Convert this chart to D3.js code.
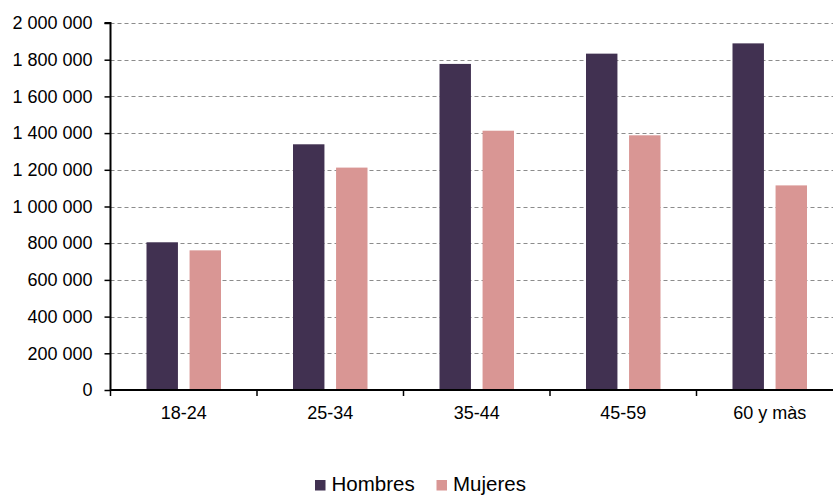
<!DOCTYPE html>
<html><head><meta charset="utf-8">
<script src="https://cdn.jsdelivr.net/npm/d3@7"></script>
<style>body{margin:0;background:#fff}svg{display:block}text{font-family:"Liberation Sans",Arial,sans-serif;fill:#000}</style>
</head><body><svg id="c" width="833" height="495"></svg>
<script>
const categories = ["18-24","25-34","35-44","45-59","60 y màs"];
const seriesNames = ["Hombres","Mujeres"];
const hombres = [805000,1339000,1777000,1833000,1889000];
const mujeres = [761000,1212000,1413000,1388000,1115000];
const yTicks = [0,200000,400000,600000,800000,1000000,1200000,1400000,1600000,1800000,2000000];
const colors = ["#413151","#d99694"];

const svg = d3.select("#c");
const x0 = 110.5, x1 = 843, yb = 390, yt = 23;
const x = d3.scaleBand().domain(categories).range([x0,x1]).paddingInner(0).paddingOuter(0);
const xs = d3.scaleBand().domain(seriesNames).range([36, 146.5-36]).paddingInner(0.27);
const y = d3.scaleLinear().domain([0,2000000]).range([yb,yt]);
const fmt = v => d3.format(",")(v).replace(/,/g," ");

// gridlines
svg.append("g").selectAll("line").data(yTicks.filter(d=>d>0)).join("line")
  .attr("x1",x0).attr("x2",833).attr("y1",d=>Math.round(y(d))+0.5).attr("y2",d=>Math.round(y(d))+0.5)
  .attr("stroke","#8c8c8c").attr("stroke-width",1.2).attr("stroke-dasharray","4,3");

// bars
const data = [hombres, mujeres];
const g = svg.append("g");
categories.forEach((c,i)=>{
  seriesNames.forEach((s,j)=>{
    g.append("rect")
      .attr("x", x(c)+xs(s)).attr("width", xs.bandwidth())
      .attr("y", y(data[j][i])).attr("height", yb - y(data[j][i]))
      .attr("fill", colors[j]);
  });
});

// y axis
const ya = svg.append("g").attr("transform",`translate(${x0},0)`)
  .call(d3.axisLeft(y).tickValues(yTicks).tickFormat(fmt).tickSize(6).tickPadding(12));
ya.select(".domain").attr("stroke","#000").attr("stroke-width",2).attr("d",`M-6,${yt}H0V${yb}`);
ya.selectAll(".tick line").attr("stroke","#000").attr("stroke-width",1.5);
ya.selectAll("text").style("font-size","18px").attr("fill","#000");

// x axis
const xa = svg.append("g").attr("transform",`translate(0,${yb})`)
  .call(d3.axisBottom(x).tickSize(0).tickPadding(16));
xa.select(".domain").attr("stroke","#000").attr("stroke-width",2).attr("d",`M${x0},0H${x1}`);
xa.selectAll("text").style("font-size","18px").attr("fill","#000");
// category boundary ticks
svg.append("g").selectAll("line").data(d3.range(categories.length+1)).join("line")
  .attr("x1",d=>x0+d*x.bandwidth()).attr("x2",d=>x0+d*x.bandwidth())
  .attr("y1",yb).attr("y2",yb+6).attr("stroke","#000").attr("stroke-width",1.5);

// legend
const leg = svg.append("g");
const lx = [315, 436.5];
seriesNames.forEach((s,j)=>{
  leg.append("rect").attr("x",lx[j]).attr("y",480).attr("width",10.5).attr("height",10.5).attr("fill",colors[j]);
  leg.append("text").attr("x",lx[j]+16.5).attr("y",491).style("font-size","20.5px").text(s);
});
</script></body></html>
